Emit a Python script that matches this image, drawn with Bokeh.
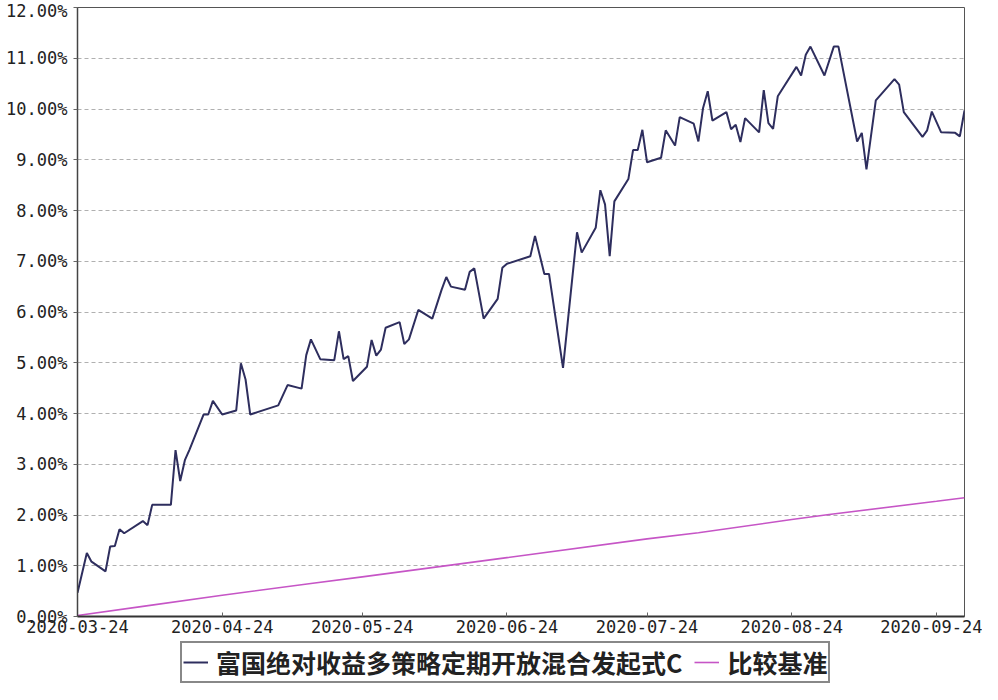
import pandas as pd
from bokeh.plotting import figure
from bokeh.layouts import column
from bokeh.models import (Range1d, FixedTicker, PrintfTickFormatter, DatetimeTickFormatter,
                          Legend, LegendItem, ColumnDataSource)
from bokeh.embed import file_html
from bokeh.resources import INLINE

fund_name = "富国绝对收益多策略定期开放混合发起式C"
bench_name = "比较基准"

fund_dates = [
    "2020-03-24", "2020-03-26", "2020-03-27", "2020-03-30", "2020-03-31", "2020-04-01",
    "2020-04-02", "2020-04-03", "2020-04-07", "2020-04-08", "2020-04-09", "2020-04-13",
    "2020-04-14", "2020-04-15", "2020-04-16", "2020-04-17", "2020-04-20", "2020-04-21",
    "2020-04-22", "2020-04-24", "2020-04-27", "2020-04-28", "2020-04-29", "2020-04-30",
    "2020-05-06", "2020-05-08", "2020-05-11", "2020-05-12", "2020-05-13", "2020-05-15",
    "2020-05-18", "2020-05-19", "2020-05-20", "2020-05-21", "2020-05-22", "2020-05-25",
    "2020-05-26", "2020-05-27", "2020-05-28", "2020-05-29", "2020-06-01", "2020-06-02",
    "2020-06-03", "2020-06-05", "2020-06-08", "2020-06-10", "2020-06-11", "2020-06-12",
    "2020-06-15", "2020-06-16", "2020-06-17", "2020-06-19", "2020-06-22", "2020-06-23",
    "2020-06-24", "2020-06-29", "2020-06-30", "2020-07-02", "2020-07-03", "2020-07-06",
    "2020-07-09", "2020-07-10", "2020-07-13", "2020-07-14", "2020-07-15", "2020-07-16",
    "2020-07-17", "2020-07-20", "2020-07-21", "2020-07-22", "2020-07-23", "2020-07-24",
    "2020-07-27", "2020-07-28", "2020-07-30", "2020-07-31", "2020-08-03", "2020-08-04",
    "2020-08-05", "2020-08-06", "2020-08-07", "2020-08-10", "2020-08-11", "2020-08-12",
    "2020-08-13", "2020-08-14", "2020-08-17", "2020-08-18", "2020-08-19", "2020-08-20",
    "2020-08-21", "2020-08-25", "2020-08-26", "2020-08-27", "2020-08-28", "2020-08-31",
    "2020-09-02", "2020-09-03", "2020-09-07", "2020-09-08", "2020-09-09", "2020-09-11",
    "2020-09-15", "2020-09-16", "2020-09-17", "2020-09-21", "2020-09-22", "2020-09-23",
    "2020-09-25", "2020-09-28", "2020-09-29", "2020-09-30",
]
fund_values = [
    0.47, 1.25, 1.08, 0.89, 1.38, 1.39,
    1.72, 1.64, 1.88, 1.80, 2.20, 2.20,
    3.28, 2.67, 3.08, 3.29, 3.98, 3.98,
    4.25, 3.98, 4.06, 4.99, 4.67, 3.98,
    4.16, 4.56, 4.49, 5.15, 5.46, 5.07,
    5.05, 5.62, 5.07, 5.13, 4.64, 4.92,
    5.45, 5.14, 5.26, 5.69, 5.80, 5.37,
    5.46, 6.04, 5.87, 6.44, 6.69, 6.50,
    6.44, 6.79, 6.86, 5.87, 6.26, 6.87,
    6.95, 7.10, 7.50, 6.75, 6.75, 4.90,
    7.57, 7.17, 7.66, 8.40, 8.12, 7.10,
    8.18, 8.62, 9.19, 9.19, 9.59, 8.95,
    9.04, 9.58, 9.28, 9.84, 9.71, 9.36,
    10.02, 10.35, 9.77, 9.94, 9.60, 9.69,
    9.35, 9.82, 9.54, 10.37, 9.72, 9.61,
    10.25, 10.83, 10.66, 11.07, 11.23, 10.66,
    11.23, 11.23, 9.36, 9.53, 8.81, 10.17,
    10.59, 10.48, 9.94, 9.45, 9.58, 9.95,
    9.54, 9.53, 9.46, 9.97,
]

bench_dates = ["2020-03-24", "2020-04-07", "2020-04-24", "2020-05-13", "2020-05-24",
               "2020-06-24", "2020-07-24", "2020-08-04", "2020-08-24", "2020-09-01",
               "2020-09-24", "2020-09-30"]
bench_values = [0.02, 0.20, 0.42, 0.65, 0.78, 1.16, 1.53, 1.65, 1.91, 2.01, 2.27, 2.34]

x_tick_labels = ["2020-03-24", "2020-04-24", "2020-05-24", "2020-06-24",
                 "2020-07-24", "2020-08-24", "2020-09-24"]
y_ticks = [0, 1, 2, 3, 4, 5, 6, 7, 8, 9, 10, 11, 12]

FUND_COLOR = "#2e2e5e"
BENCH_COLOR = "#c655c6"

fund_src = ColumnDataSource(dict(x=pd.to_datetime(fund_dates), y=fund_values))
bench_src = ColumnDataSource(dict(x=pd.to_datetime(bench_dates), y=bench_values))

p = figure(width=982, height=640, x_axis_type="datetime",
           output_backend="svg", toolbar_location=None,
           x_range=Range1d(pd.Timestamp("2020-03-24"), pd.Timestamp("2020-09-30")),
           y_range=Range1d(0, 12),
           min_border_left=77, min_border_right=18, min_border_top=7, min_border_bottom=24)

p.background_fill_color = "white"
p.border_fill_color = "white"
p.outline_line_color = "#555555"
p.outline_line_width = 1

p.line("x", "y", source=fund_src, line_color=FUND_COLOR, line_width=2)
p.line("x", "y", source=bench_src, line_color=BENCH_COLOR, line_width=1.6)

p.xgrid.visible = False
p.ygrid.grid_line_color = "#b0b0b0"
p.ygrid.grid_line_dash = "4 3"
p.ygrid.grid_line_width = 1

tick_font = "DejaVu Sans Mono"

p.yaxis.ticker = FixedTicker(ticks=y_ticks)
p.yaxis.formatter = PrintfTickFormatter(format="%.2f%%")
p.yaxis.major_label_text_font = tick_font
p.yaxis.major_label_text_font_size = "17px"
p.yaxis.major_label_text_color = "#222222"
p.yaxis.axis_line_color = "#444444"
p.yaxis.axis_line_width = 1.5
p.yaxis.major_tick_in = 0
p.yaxis.major_tick_out = 4
p.yaxis.major_tick_line_color = "#666666"
p.yaxis.minor_tick_line_color = None
p.yaxis.major_label_standoff = 6

x_tick_ms = [pd.Timestamp(d).value // 10**6 for d in x_tick_labels]
p.xaxis.ticker = FixedTicker(ticks=x_tick_ms)
p.xaxis.formatter = DatetimeTickFormatter(days="%Y-%m-%d", months="%Y-%m-%d")
p.xaxis.major_label_text_font = tick_font
p.xaxis.major_label_text_font_size = "17px"
p.xaxis.major_label_text_color = "#222222"
p.xaxis.axis_line_color = "#333333"
p.xaxis.axis_line_width = 2
p.xaxis.major_tick_in = 4
p.xaxis.major_tick_out = 0
p.xaxis.major_tick_line_color = "#666666"
p.xaxis.minor_tick_line_color = None
p.xaxis.major_label_standoff = 3

# Legend strip below the chart (same series, drawn outside this strip's ranges)
lg = figure(width=982, height=44, output_backend="svg", toolbar_location=None,
            x_range=Range1d(0, 1), y_range=Range1d(0, 1),
            x_axis_location=None, y_axis_location=None,
            min_border_left=0, min_border_right=0, min_border_top=0, min_border_bottom=0)
lg.outline_line_color = None
lg.xgrid.visible = False
lg.ygrid.visible = False
lg_fund = lg.line("x", "y", source=fund_src, line_color=FUND_COLOR, line_width=2)
lg_bench = lg.line("x", "y", source=bench_src, line_color=BENCH_COLOR, line_width=1.6)

legend = Legend(items=[LegendItem(label=fund_name, renderers=[lg_fund]),
                       LegendItem(label=bench_name, renderers=[lg_bench])],
                orientation="horizontal", location=(103, 1))
legend.label_text_font = "Noto Sans CJK SC"
legend.label_text_font_style = "bold"
legend.label_text_font_size = "25px"
legend.label_text_color = "#222222"
legend.glyph_width = 25
legend.glyph_height = 20
legend.label_standoff = 8
legend.spacing = 12
legend.padding = 1
legend.margin = 0
legend.border_line_color = "#111111"
legend.border_line_width = 2
legend.background_fill_color = "white"
lg.add_layout(legend, "center")

layout = column(p, lg, spacing=0)
open("out.html", "w").write(file_html(layout, INLINE))
